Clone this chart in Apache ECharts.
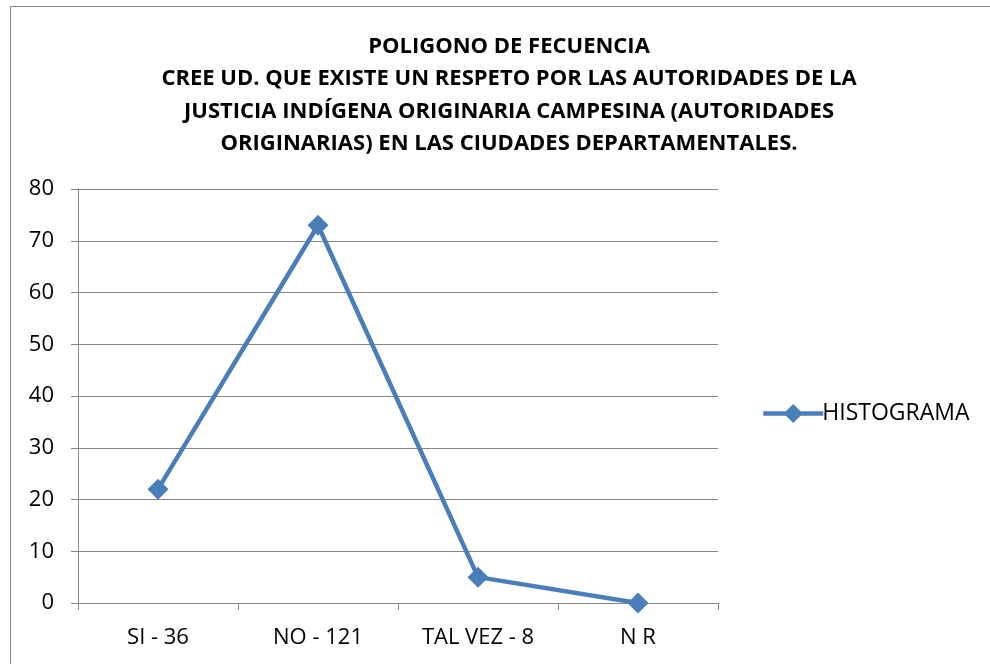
<!DOCTYPE html>
<html>
<head>
<meta charset="utf-8">
<script src="https://cdn.jsdelivr.net/npm/echarts@6/dist/echarts.min.js"></script>
<style>
  html, body { margin: 0; padding: 0; background: #fff; }
  #chart { width: 990px; height: 664px; }
</style>
</head>
<body>
<div id="chart"></div>
<script>
// datos del poligono
const categories = ['SI - 36', 'NO - 121', 'TAL VEZ - 8', 'N R'];
const histograma = [22, 73, 5, 0];
const titleLines = [
  'POLIGONO DE FECUENCIA',
  'CREE UD. QUE EXISTE UN RESPETO POR LAS AUTORIDADES DE LA',
  'JUSTICIA INDÍGENA ORIGINARIA CAMPESINA (AUTORIDADES',
  'ORIGINARIAS) EN LAS CIUDADES DEPARTAMENTALES.'
];

const chart = echarts.init(document.getElementById('chart'));
const font = 'Open Sans';
const grey = '#868686';
const blue = '#4a7ebb';

chart.setOption({
  animation: false,
  graphic: [{
    type: 'rect',
    shape: { x: 10.5, y: 6.5, width: 1000, height: 700 },
    style: { fill: null, stroke: grey, lineWidth: 1 }
  }],
  title: {
    text: titleLines.join('\n'),
    left: 504,
    textAlign: 'center',
    top: 25,
    textStyle: {
      fontFamily: font, fontWeight: 'bold', fontSize: 22,
      lineHeight: 32.5, color: '#000'
    }
  },
  legend: {
    data: ['HISTOGRAMA'],
    orient: 'vertical',
    left: 756,
    top: 397,
    itemWidth: 60,
    itemHeight: 24,
    itemGap: 0,
    lineStyle: { width: 4.5 },
    textStyle: { fontFamily: font, fontSize: 23, color: '#000', padding: [0, 0, 0, -6] }
  },
  grid: { left: 78, right: 272, top: 189, bottom: 61, containLabel: false },
  xAxis: {
    type: 'category',
    data: categories,
    boundaryGap: true,
    axisLine: { lineStyle: { color: grey, width: 1 } },
    axisTick: { show: true, length: 7, lineStyle: { color: grey } },
    axisLabel: { fontFamily: font, fontSize: 22, color: '#000', margin: 24 }
  },
  yAxis: {
    type: 'value',
    min: 0, max: 80, interval: 10,
    axisLine: { show: true, lineStyle: { color: grey, width: 1 } },
    axisTick: { show: true, length: 7, lineStyle: { color: grey } },
    splitLine: { lineStyle: { color: grey, width: 1 } },
    axisLabel: { fontFamily: font, fontSize: 22, color: '#000', margin: 24 }
  },
  series: [{
    name: 'HISTOGRAMA',
    type: 'line',
    data: histograma,
    symbol: 'diamond',
    symbolSize: 21,
    itemStyle: { color: blue },
    lineStyle: { color: blue, width: 4.5 }
  }]
});
</script>
</body>
</html>
